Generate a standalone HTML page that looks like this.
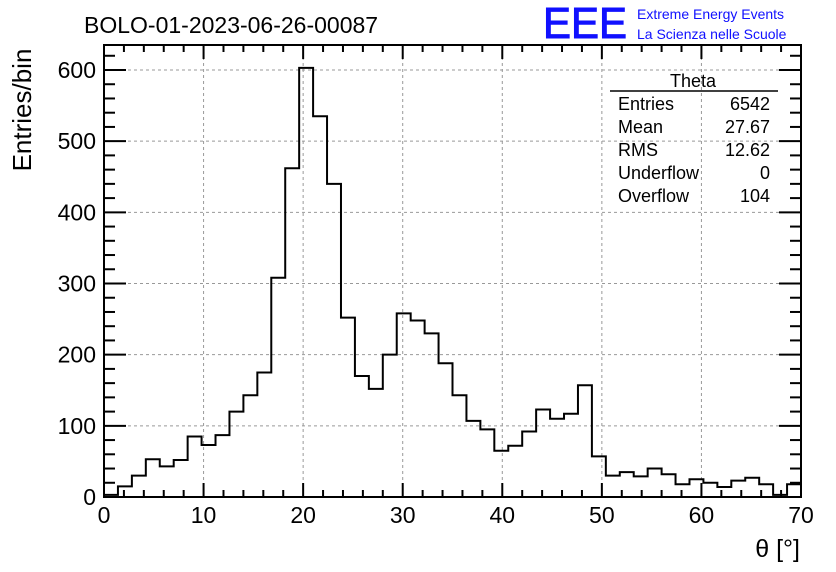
<!DOCTYPE html>
<html><head><meta charset="utf-8"><style>
body{margin:0;background:#fff;}
svg{display:block;font-family:"Liberation Sans",sans-serif;}
</style></head><body>
<svg id="c" width="836" height="572">
<text x="84" y="33" font-size="23">BOLO-01-2023-06-26-00087</text>
<text x="543" y="38" font-size="44" fill="#1010ff" stroke="#1010ff" stroke-width="1" textLength="84" lengthAdjust="spacingAndGlyphs">EEE</text>
<text x="637" y="19" font-size="14" fill="#1010ff">Extreme Energy Events</text>
<text x="637" y="39" font-size="14" fill="#1010ff">La Scienza nelle Scuole</text>
<text transform="translate(31,110) rotate(-90)" font-size="26" text-anchor="middle">Entries/bin</text>
<text x="800" y="557" font-size="25" text-anchor="end">θ [°]</text>
<g id="grid"></g><g id="axes"></g><path id="hist" fill="none" stroke="#000" stroke-width="2"/>
<rect x="104" y="45" width="697" height="452" fill="none" stroke="#000" stroke-width="2"/>
<g font-size="18">
<text x="693" y="87" text-anchor="middle">Theta</text>
<line x1="610" y1="91" x2="778" y2="91" stroke="#000" stroke-width="1.5"/>
<text x="618" y="110">Entries</text><text x="770" y="110" text-anchor="end">6542</text>
<text x="618" y="133">Mean</text><text x="770" y="133" text-anchor="end">27.67</text>
<text x="618" y="156">RMS</text><text x="770" y="156" text-anchor="end">12.62</text>
<text x="618" y="179">Underflow</text><text x="770" y="179" text-anchor="end">0</text>
<text x="618" y="202">Overflow</text><text x="770" y="202" text-anchor="end">104</text>
</g>
</svg>
<script>
const binCounts=[3,15,30,53,43,52,85,73,87,120,143,175,308,462,603,535,440,252,170,152,200,258,248,230,188,143,107,95,65,72,92,123,110,117,157,57,30,35,29,40,32,18,25,20,14,23,27,18,3,18];
const xTicks=[0,10,20,30,40,50,60,70];
const yTicks=[0,100,200,300,400,500,600];
const xMin=0,xMax=70,binW=1.4;
const X=v=>104+(v-xMin)/(xMax-xMin)*697;
const Y=v=>497-v*(427/600);
const ns="http://www.w3.org/2000/svg";
const grid=document.getElementById('grid'),axes=document.getElementById('axes');
function mk(tag,attrs,parent,text){const e=document.createElementNS(ns,tag);for(const k in attrs)e.setAttribute(k,attrs[k]);if(text!==undefined)e.textContent=text;parent.appendChild(e);return e;}
xTicks.forEach(t=>{
 if(t>0&&t<70){const g=mk('line',{x1:X(t),x2:X(t),y1:45,y2:497,stroke:'#999','stroke-dasharray':'3,3'},grid);}
 const l=mk('text',{x:X(t),y:523,'font-size':23,'text-anchor':'middle'},axes,t);
 
 
});
for(let v=0;v<=70;v+=2){const big=v%10===0;mk('line',{x1:X(v),x2:X(v),y1:497,y2:497-(big?14:7),stroke:'#000','stroke-width':2},axes);mk('line',{x1:X(v),x2:X(v),y1:45,y2:45+(big?14:7),stroke:'#000','stroke-width':2},axes);}
for(let v=0;v<=620;v+=20){const big=v%100===0;const y=Y(v);if(y<45)continue;mk('line',{x1:104,x2:104+(big?22:11),y1:y,y2:y,stroke:'#000','stroke-width':2},axes);mk('line',{x1:801,x2:801-(big?22:11),y1:y,y2:y,stroke:'#000','stroke-width':2},axes);}
yTicks.forEach(t=>{
 if(t>0){const g=mk('line',{x1:104,x2:801,y1:Y(t),y2:Y(t),stroke:'#999','stroke-dasharray':'3,3'},grid);}
 const l=mk('text',{x:96,y:Y(t)+8,'font-size':23,'text-anchor':'end'},axes,t);
 
 
});
let d='M'+X(0)+','+Y(0);
binCounts.forEach((c,i)=>{d+=' L'+X(i*binW)+','+Y(c)+' L'+X((i+1)*binW)+','+Y(c);});
d+=' L'+X(binCounts.length*binW)+','+Y(0);
const h=document.getElementById('hist');h.setAttribute('d',d);


</script>
</body></html>
